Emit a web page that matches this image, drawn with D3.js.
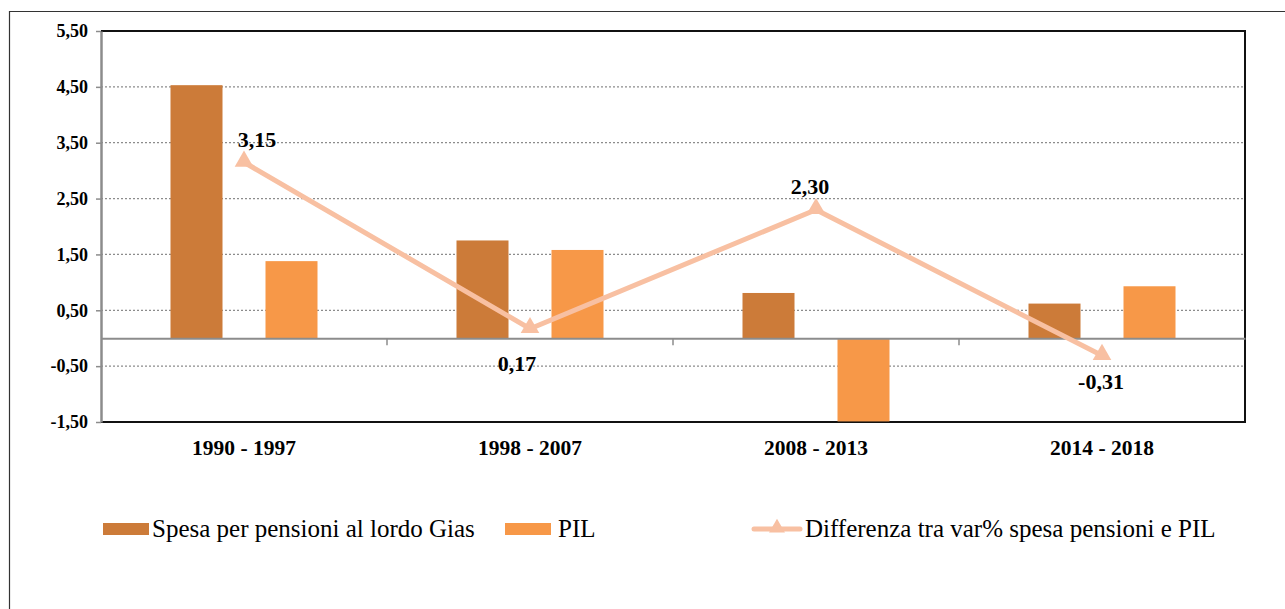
<!DOCTYPE html>
<html>
<head>
<meta charset="utf-8">
<script src="https://cdn.jsdelivr.net/npm/d3@7"></script>
<style>
  body { margin: 0; background: #fff; }
  svg text { font-family: "Liberation Serif", "Times New Roman", serif; fill: #000; }
</style>
</head>
<body>
<div id="chart"></div>
<script>
// Data
const categories = ['1990 - 1997', '1998 - 2007', '2008 - 2013', '2014 - 2018'];
const spesa = [4.53, 1.75, 0.81, 0.62];
const pil = [1.38, 1.58, -1.49, 0.93];
const diff = [3.15, 0.17, 2.3, -0.31];
const diffLabels = ['3,15', '0,17', '2,30', '-0,31'];
const yTicks = [-1.5, -0.5, 0.5, 1.5, 2.5, 3.5, 4.5, 5.5];
const seriesNames = ['Spesa per pensioni al lordo Gias', 'PIL', 'Differenza tra var% spesa pensioni e PIL'];

const svgWidth = 1285, svgHeight = 609;
const margin = { top: 31, left: 101, right: 40, bottom: 187 };
const width = svgWidth - margin.left - margin.right;
const height = svgHeight - margin.top - margin.bottom;

const colSpesa = '#CC7B39', colPil = '#F79848', colLine = '#F8C0A2';

const root = d3.select('#chart').append('svg')
  .attr('width', svgWidth).attr('height', svgHeight);

// outer frame (left and top only visible)
root.append('path')
  .attr('d', `M9.5,${svgHeight} V11.5 H${svgWidth}`)
  .attr('fill', 'none').attr('stroke', '#333').attr('stroke-width', 1.2);

const svg = root.append('g').attr('transform', `translate(${margin.left},${margin.top})`);

const x = d3.scaleBand().domain(categories).range([0, width]);
const y = d3.scaleLinear().domain([-1.5, 5.5]).range([height, 0]);
const fmt = (d) => d3.format('.2f')(d).replace('.', ',').replace('−', '-');

// gridlines
svg.selectAll('.grid').data(yTicks.filter((t) => t > -1.5 && t < 5.5))
  .enter().append('line')
  .attr('x1', 0).attr('x2', width)
  .attr('y1', (d) => y(d)).attr('y2', (d) => y(d))
  .attr('stroke', '#8c8c8c').attr('stroke-width', 1.3)
  .attr('stroke-dasharray', '2,2');

// plot border top/right/bottom
svg.append('path')
  .attr('d', `M0,${y(5.5)} H${width} V${y(-1.5)} H0`)
  .attr('fill', 'none').attr('stroke', '#111').attr('stroke-width', 2);

// bars
const off = 47.5, bw = 52;
svg.selectAll('.bar-s').data(spesa).enter().append('rect')
  .attr('x', (d, i) => x(categories[i]) + x.bandwidth() / 2 - off - bw / 2)
  .attr('y', (d) => y(Math.max(0, d)))
  .attr('width', bw)
  .attr('height', (d) => Math.abs(y(d) - y(0)))
  .attr('fill', colSpesa);
svg.selectAll('.bar-p').data(pil).enter().append('rect')
  .attr('x', (d, i) => x(categories[i]) + x.bandwidth() / 2 + off - bw / 2)
  .attr('y', (d) => y(Math.max(0, d)))
  .attr('width', bw)
  .attr('height', (d) => Math.abs(y(d) - y(0)))
  .attr('fill', colPil);

// zero axis with category ticks
const xAxis = svg.append('g')
  .attr('transform', `translate(0,${y(0)})`)
  .call(d3.axisBottom(x).tickSize(0).tickFormat(''));
xAxis.select('.domain').attr('stroke', '#8c8c8c').attr('stroke-width', 2);
svg.selectAll('.cat-tick').data(categories.slice(1)).enter().append('line')
  .attr('x1', (d) => x(d)).attr('x2', (d) => x(d))
  .attr('y1', y(0)).attr('y2', y(0) + 7)
  .attr('stroke', '#8c8c8c').attr('stroke-width', 1.5);

// y axis
const yAxis = svg.append('g')
  .call(d3.axisLeft(y).tickValues(yTicks).tickSize(5).tickSizeOuter(0).tickFormat(fmt));
yAxis.select('.domain').attr('stroke', '#8c8c8c').attr('stroke-width', 2.5);
yAxis.selectAll('.tick line').attr('stroke', '#8c8c8c').attr('stroke-width', 1.5);
yAxis.selectAll('.tick text')
  .attr('x', -13)
  .style('font-family', '"Liberation Serif", serif')
  .style('font-weight', 'bold').style('font-size', '18px').attr('fill', '#000');

// category labels
svg.selectAll('.cat-label').data(categories).enter().append('text')
  .attr('x', (d) => x(d) + x.bandwidth() / 2)
  .attr('y', height + 33)
  .attr('text-anchor', 'middle')
  .style('font-weight', 'bold').style('font-size', '21.5px')
  .text((d) => d);

// difference line
const cx = (i) => x(categories[i]) + x.bandwidth() / 2;
const line = d3.line().x((d, i) => cx(i)).y((d) => y(d));
svg.append('path').datum(diff)
  .attr('d', line)
  .attr('fill', 'none').attr('stroke', colLine).attr('stroke-width', 5);
const tri = d3.symbol().type(d3.symbolTriangle).size(150);
svg.selectAll('.marker').data(diff).enter().append('path')
  .attr('d', tri)
  .attr('transform', (d, i) => `translate(${cx(i)},${y(d) - 1})`)
  .attr('fill', colLine);

// data labels
const labelPos = [
  { dx: 13, dy: -15 },
  { dx: -13, dy: 42 },
  { dx: -6, dy: -16 },
  { dx: -1, dy: 33 },
];
svg.selectAll('.dlabel').data(diff).enter().append('text')
  .attr('x', (d, i) => cx(i) + labelPos[i].dx)
  .attr('y', (d, i) => y(d) + labelPos[i].dy)
  .attr('text-anchor', 'middle')
  .style('font-weight', 'bold').style('font-size', '22px')
  .text((d, i) => diffLabels[i]);

// legend
const legend = root.append('g');
const legY = 529;
legend.append('rect').attr('x', 103).attr('y', legY - 6).attr('width', 46).attr('height', 12).attr('fill', colSpesa);
legend.append('text').attr('x', 152).attr('y', legY + 8).style('font-size', '25px').text(seriesNames[0]);
legend.append('rect').attr('x', 505).attr('y', legY - 6).attr('width', 46).attr('height', 12).attr('fill', colPil);
legend.append('text').attr('x', 558).attr('y', legY + 8).style('font-size', '25px').text(seriesNames[1]);
legend.append('line').attr('x1', 754).attr('x2', 800).attr('y1', legY).attr('y2', legY)
  .attr('stroke', colLine).attr('stroke-width', 5).attr('stroke-linecap', 'round');
legend.append('path').attr('d', d3.symbol().type(d3.symbolTriangle).size(110))
  .attr('transform', `translate(777,${legY - 1})`).attr('fill', colLine);
legend.append('text').attr('x', 805).attr('y', legY + 8).style('font-size', '25px').text(seriesNames[2]);
</script>
</body>
</html>
